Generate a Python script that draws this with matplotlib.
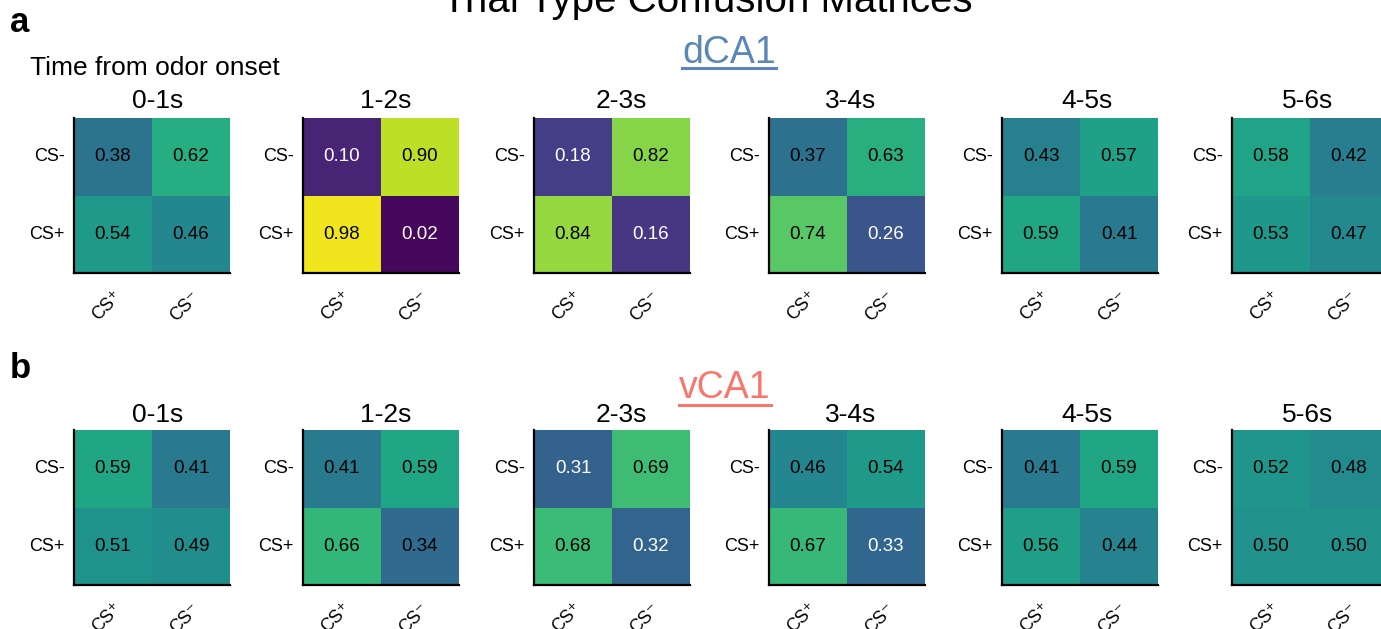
import numpy as np
import matplotlib
matplotlib.use("Agg")
import matplotlib.pyplot as plt
import seaborn as sns
from matplotlib.lines import Line2D
from matplotlib.transforms import ScaledTranslation

plt.rcParams['font.family'] = ['Liberation Sans', 'DejaVu Sans']
plt.rcParams['mathtext.fontset'] = 'dejavusans'

# ---- data ----
time_bins = ["0-1s", "1-2s", "2-3s", "3-4s", "4-5s", "5-6s"]
row_labels = ["CS-", "CS+"]
col_labels = ["CS\u207a", "CS\u207b"]

dca1_0_1 = [[0.38, 0.62], [0.54, 0.46]]
dca1_1_2 = [[0.10, 0.90], [0.98, 0.02]]
dca1_2_3 = [[0.18, 0.82], [0.84, 0.16]]
dca1_3_4 = [[0.37, 0.63], [0.74, 0.26]]
dca1_4_5 = [[0.43, 0.57], [0.59, 0.41]]
dca1_5_6 = [[0.58, 0.42], [0.53, 0.47]]

vca1_0_1 = [[0.59, 0.41], [0.51, 0.49]]
vca1_1_2 = [[0.41, 0.59], [0.66, 0.34]]
vca1_2_3 = [[0.31, 0.69], [0.68, 0.32]]
vca1_3_4 = [[0.46, 0.54], [0.67, 0.33]]
vca1_4_5 = [[0.41, 0.59], [0.56, 0.44]]
vca1_5_6 = [[0.52, 0.48], [0.50, 0.50]]

dca1 = [dca1_0_1, dca1_1_2, dca1_2_3, dca1_3_4, dca1_4_5, dca1_5_6]
vca1 = [vca1_0_1, vca1_1_2, vca1_2_3, vca1_3_4, vca1_4_5, vca1_5_6]

W, H = 1381, 629
fig = plt.figure(figsize=(W / 100, H / 100), dpi=100)

lefts_px = [74, 303, 534, 769, 1002, 1232]
title_x_px = [157.5, 386, 621.5, 851, 1087.5, 1308]
aw = 156 / W
row_bottoms = [1 - 273 / H, 1 - 585 / H]
row_title_y = [1 - 108 / H, 1 - 422 / H]
ah = 155 / H

dx = ScaledTranslation(12 / 100, 3 / 100, fig.dpi_scale_trans)

for r, mats in enumerate([dca1, vca1]):
    for c, m in enumerate(mats):
        ax = fig.add_axes([lefts_px[c] / W, row_bottoms[r], aw, ah])
        arr = np.array(m)
        sns.heatmap(arr, ax=ax, cmap="viridis", vmin=0, vmax=1,
                    annot=True, fmt=".2f", cbar=False,
                    annot_kws={"fontsize": 13.5},
                    xticklabels=col_labels, yticklabels=row_labels)
        for t in ax.texts:
            v = float(t.get_text())
            t.set_color("white" if v < 0.335 else "black")
        fig.text(title_x_px[c] / W, row_title_y[r], time_bins[c], fontsize=19,
                 ha="center", va="baseline")
        for s in ["left", "bottom"]:
            ax.spines[s].set_visible(True)
            ax.spines[s].set_color("black")
            ax.spines[s].set_linewidth(1.6)
        for s in ["top", "right"]:
            ax.spines[s].set_visible(False)
        ax.tick_params(axis="both", length=0, labelsize=13)
        ax.tick_params(axis="y", pad=6.5)
        ax.tick_params(axis="x", pad=13)
        plt.setp(ax.get_yticklabels(), rotation=0, va="center")
        for lab in ax.get_xticklabels():
            lab.set_rotation(45)
            lab.set_ha("right")
            lab.set_transform(lab.get_transform() + dx)

fig.text(707 / W, 1 - 12 / H, "Trial Type Confusion Matrices", fontsize=29,
         ha="center", va="baseline")
fig.text(10 / W, 1 - 32 / H, "a", fontsize=25, fontweight="bold", va="baseline")
fig.text(10 / W, 1 - 378 / H, "b", fontsize=25, fontweight="bold", va="baseline")
fig.text(30 / W, 1 - 75 / H, "Time from odor onset", fontsize=19, va="baseline")

t1 = fig.text(729 / W, 1 - 63 / H, "dCA1", fontsize=27, ha="center",
              va="baseline", color="#5b87b8")
t2 = fig.text(725 / W, 1 - 398 / H, "vCA1", fontsize=27, ha="center",
              va="baseline", color="#f8766d")

fig.canvas.draw()
renderer = fig.canvas.get_renderer()
for t, yb in [(t1, 67.5), (t2, 404.5)]:
    bb = t.get_window_extent(renderer)
    x0, x1 = bb.x0 / W, bb.x1 / W
    fig.add_artist(Line2D([x0, x1], [1 - yb / H, 1 - yb / H],
                          transform=fig.transFigure, color=t.get_color(), lw=2.2))

fig.savefig("out.png", dpi=100)
